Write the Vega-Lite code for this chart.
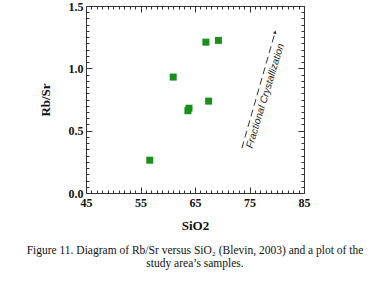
{
  "$schema": "https://vega.github.io/schema/vega-lite/v6.json",
  "width": 218,
  "height": 187,
  "autosize": {"type": "none"},
  "padding": {"left": 86, "top": 6, "right": 76, "bottom": 89},
  "background": "white",
  "config": {
    "view": {"stroke": null},
    "axis": {
      "domainColor": "#333",
      "tickColor": "#333",
      "ticks": true,
      "grid": false,
      "labelFlush": false,
      "labelFont": "Liberation Serif",
      "labelFontWeight": "bold",
      "labelFontSize": 12,
      "labelColor": "#111",
      "titleFont": "Liberation Serif",
      "titleFontWeight": "bold",
      "titleFontSize": 13,
      "titleColor": "#111",
      "labelOverlap": false
    }
  },
  "title": {
    "text": ["Figure 11.  Diagram of Rb/Sr versus SiO₂ (Blevin, 2003) and a plot of the", "study area’s samples."],
    "orient": "bottom",
    "anchor": "middle",
    "font": "Liberation Serif",
    "fontSize": 11.5,
    "fontWeight": "normal",
    "lineHeight": 13,
    "offset": 13,
    "color": "#111"
  },
  "datasets": {
    "samples": [
      {"SiO2": 56.7, "RbSr": 0.263},
      {"SiO2": 61.0, "RbSr": 0.93},
      {"SiO2": 63.7, "RbSr": 0.66},
      {"SiO2": 63.9, "RbSr": 0.68},
      {"SiO2": 67.0, "RbSr": 1.21},
      {"SiO2": 69.3, "RbSr": 1.224},
      {"SiO2": 67.5, "RbSr": 0.737}
    ],
    "arrow": [
      {"SiO2": 73.6, "RbSr": 0.36, "o": 1},
      {"SiO2": 79.7, "RbSr": 1.29, "o": 2}
    ],
    "head": [
      {"SiO2": 79.7, "RbSr": 1.29}
    ],
    "label": [
      {"SiO2": 77.9, "RbSr": 0.78, "text": "Fractional Crystallization"}
    ]
  },
  "layer": [
    {
      "data": {"name": "samples"},
      "mark": {"type": "point", "shape": "square", "filled": true, "size": 49, "color": "#17901a", "opacity": 1},
      "encoding": {
        "x": {
          "field": "SiO2", "type": "quantitative",
          "scale": {"domain": [45, 85], "nice": false, "zero": false},
          "axis": {
            "orient": "bottom",
            "title": "SiO2",
            "values": [45,46,47,48,49,50,51,52,53,54,55,56,57,58,59,60,61,62,63,64,65,66,67,68,69,70,71,72,73,74,75,76,77,78,79,80,81,82,83,84,85],
            "labelExpr": "datum.value % 10 === 5 ? datum.label : ''",
            "tickSize": {"condition": {"test": "datum.value % 10 === 5", "value": -6}, "value": -3},
            "labelPadding": 10,
            "titlePadding": 8
          }
        },
        "y": {
          "field": "RbSr", "type": "quantitative",
          "scale": {"domain": [0, 1.5], "nice": false, "zero": false},
          "axis": {
            "orient": "left",
            "title": "Rb/Sr",
            "format": ".1f",
            "values": [0,0.05,0.1,0.15,0.2,0.25,0.3,0.35,0.4,0.45,0.5,0.55,0.6,0.65,0.7,0.75,0.8,0.85,0.9,0.95,1,1.05,1.1,1.15,1.2,1.25,1.3,1.35,1.4,1.45,1.5],
            "labelExpr": "abs(datum.value*2 - round(datum.value*2)) < 0.001 ? datum.label : ''",
            "tickSize": {"condition": {"test": "abs(datum.value*2 - round(datum.value*2)) < 0.001", "value": -6}, "value": -3},
            "labelPadding": 9,
            "titlePadding": 16
          }
        }
      }
    },
    {
      "data": {"name": "arrow"},
      "mark": {"type": "line", "strokeDash": [7, 4], "color": "#333", "strokeWidth": 1},
      "encoding": {
        "x": {
          "field": "SiO2", "type": "quantitative",
          "axis": {
            "orient": "top",
            "title": null,
            "labels": false,
            "values": [45,46,47,48,49,50,51,52,53,54,55,56,57,58,59,60,61,62,63,64,65,66,67,68,69,70,71,72,73,74,75,76,77,78,79,80,81,82,83,84,85],
            "tickSize": {"condition": {"test": "datum.value % 10 === 5", "value": -6}, "value": -3}
          }
        },
        "y": {
          "field": "RbSr", "type": "quantitative",
          "axis": {
            "orient": "right",
            "title": null,
            "labels": false,
            "values": [0,0.05,0.1,0.15,0.2,0.25,0.3,0.35,0.4,0.45,0.5,0.55,0.6,0.65,0.7,0.75,0.8,0.85,0.9,0.95,1,1.05,1.1,1.15,1.2,1.25,1.3,1.35,1.4,1.45,1.5],
            "tickSize": {"condition": {"test": "abs(datum.value*2 - round(datum.value*2)) < 0.001", "value": -6}, "value": -3}
          }
        },
        "order": {"field": "o", "type": "quantitative"}
      }
    },
    {
      "data": {"name": "head"},
      "mark": {"type": "point", "shape": "triangle-up", "filled": true, "size": 14, "angle": 16, "color": "#333", "opacity": 1},
      "encoding": {
        "x": {"field": "SiO2", "type": "quantitative", "axis": null},
        "y": {"field": "RbSr", "type": "quantitative", "axis": null}
      }
    },
    {
      "data": {"name": "label"},
      "mark": {"type": "text", "angle": -73, "font": "Liberation Sans", "fontStyle": "italic", "fontSize": 10, "color": "#222", "align": "center", "baseline": "middle"},
      "encoding": {
        "x": {"field": "SiO2", "type": "quantitative", "axis": null},
        "y": {"field": "RbSr", "type": "quantitative", "axis": null},
        "text": {"field": "text"}
      }
    }
  ],
  "resolve": {"axis": {"x": "independent", "y": "independent"}}
}
